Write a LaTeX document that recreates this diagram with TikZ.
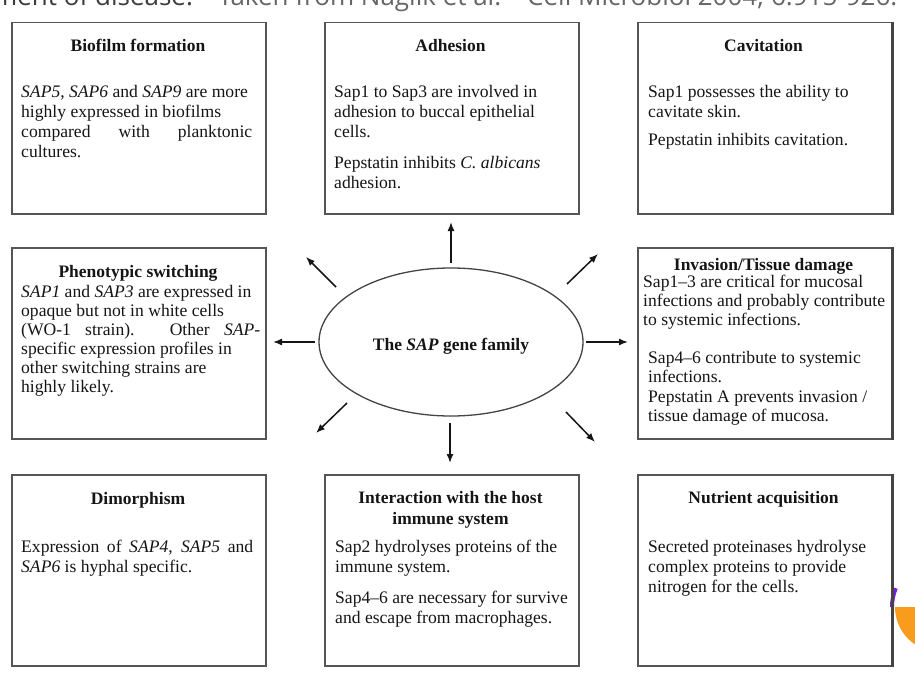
\documentclass[tikz,border=0pt]{standalone}
\usepackage{fontspec}
\setmainfont{Liberation Serif}
\newfontfamily\capfont{Open Sans}
\usetikzlibrary{arrows.meta,shapes.geometric}
\definecolor{txt}{HTML}{151515}
\definecolor{bord}{HTML}{555555}
\definecolor{bordd}{HTML}{444444}
\definecolor{capdark}{HTML}{3C3C3C}
\definecolor{capgray}{HTML}{666666}
\definecolor{orng}{HTML}{F99B1C}
\definecolor{purp}{HTML}{7A1FE0}
\begin{document}
\begin{tikzpicture}[x=1bp,y=-1bp,
  box/.style={draw=bord, line width=1.5bp, rectangle, inner sep=0, anchor=north west,
              minimum width=254bp, minimum height=191bp},
  ttl/.style={font=\fontsize{17.5bp}{20bp}\selectfont\bfseries, text=txt, inner sep=0, anchor=base},
  body/.style={font=\fontsize{17.6bp}{20bp}\selectfont, text=txt, inner sep=0, anchor=north west, align=left},
  bodyn/.style={font=\fontsize{17.6bp}{19bp}\selectfont, text=txt, inner sep=0, anchor=north west, align=left},
  capt/.style={font=\capfont\fontsize{26bp}{30bp}\selectfont, inner sep=0, anchor=base west},
  arr/.style={-{Latex[length=9bp,width=7bp]}, line width=1.5bp, draw=txt}]
\useasboundingbox (0,0) rectangle (915,689);
\clip (0,0) rectangle (915,689);
\fill[white] (0,0) rectangle (915,689);

% cropped caption at the top
\node[capt, text=capdark] (cap1) at (-7,6) {ment of disease.};
\node[capt, text=capgray] (cap2) at (218,6) {Taken from Naglik et al.};
\node[capt, text=capgray] (cap3) at (527,6) {Cell Microbiol 2004; 6:915-926.};

% decorative shapes at the right edge
\draw[purp, line width=4bp] (940,607) ++(180:48) arc[start angle=180, end angle=203, radius=48];
\fill[orng] (940,607) -- (895,607) arc[start angle=180, end angle=90, radius=45] -- cycle;

% boxes
\node[box] (bio) at (11,22) {};
\node[box] (adh) at (324,22) {};
\node[box] (cav) at (637,22) {};
\node[box] (phe) at (11,247) {};
\node[box] (inv) at (637,247) {};
\node[box] (dim) at (11,474) {};
\node[box] (imm) at (324,474) {};
\node[box] (nut) at (637,474) {};
\draw[bordd, line width=2.2bp] (cav.north east) -- (cav.south east);
\draw[bordd, line width=2.2bp] (inv.north east) -- (inv.south east);
\draw[bordd, line width=2.2bp] (nut.north east) -- (nut.south east);

% Biofilm formation
\node[ttl] (bioT) at (138,52) {Biofilm formation};
\node[body] (bioB) at (21,83) {\strut\textit{SAP5}, \textit{SAP6} and \textit{SAP9} are more\\
highly expressed in biofilms\\
\makebox[231bp][s]{compared with planktonic}\\
cultures.};

% Adhesion
\node[ttl] (adhT) at (450.5,52) {Adhesion};
\node[body] (adhB) at (334,83) {\strut Sap1 to Sap3 are involved in\\
adhesion to buccal epithelial\\
cells.\\[11bp]
Pepstatin inhibits \textit{C. albicans}\\
adhesion.};

% Cavitation
\node[ttl] (cavT) at (763.5,52) {Cavitation};
\node[body] (cavB) at (648,83) {\strut Sap1 possesses the ability to\\
cavitate skin.\\[8bp]
Pepstatin inhibits cavitation.};

% Phenotypic switching
\node[ttl] (pheT) at (138,277) {Phenotypic switching};
\node[bodyn] (pheB) at (21,283.7) {\strut\textit{SAP1} and \textit{SAP3} are expressed in\\
opaque but not in white cells\\
\makebox[239bp][s]{(WO-1 strain). Other \textit{SAP}-}\\
specific expression profiles in\\
other switching strains are\\
highly likely.};

% Invasion / Tissue damage
\node[ttl] (invT) at (763.5,270) {Invasion/Tissue damage};
\node[bodyn] (invB1) at (643,273.7) {\strut Sap1–3 are critical for mucosal\\
infections and probably contribute\\
to systemic infections.};
\node[bodyn] (invB2) at (648,349.7) {\strut Sap4–6 contribute to systemic\\
infections.\\[1.5bp]
Pepstatin A prevents invasion /\\
tissue damage of mucosa.};

% Dimorphism
\node[ttl] (dimT) at (138,504) {Dimorphism};
\node[body] (dimB) at (21,538) {\strut\makebox[232bp][s]{Expression of \textit{SAP4}, \textit{SAP5} and}\\
\textit{SAP6} is hyphal specific.};

% Interaction with the host immune system
\node[ttl, anchor=north, align=center, font=\fontsize{17.5bp}{21bp}\selectfont\bfseries] (immT) at (450.5,488.3)
  {\strut Interaction with the host\\ immune system};
\node[body] (immB) at (335,538) {\strut Sap2 hydrolyses proteins of the\\
immune system.\\[11bp]
Sap4–6 are necessary for survive\\
and escape from macrophages.};

% Nutrient acquisition
\node[ttl] (nutT) at (763.5,503) {Nutrient acquisition};
\node[body] (nutB) at (648,538) {\strut Secreted proteinases hydrolyse\\
complex proteins to provide\\
nitrogen for the cells.};

% central ellipse
\node[draw=bordd, line width=1.3bp, ellipse, minimum width=264bp, minimum height=148bp, inner sep=0] (ell) at (451,342) {};
\node[ttl] (ellT) at (451,350) {The \textit{SAP} gene family};

% arrows
\coordinate (upS) at (451,263);  \coordinate (upE) at (451,222);
\coordinate (dnS) at (450,423);  \coordinate (dnE) at (450,463);
\coordinate (lfS) at (315,342);  \coordinate (lfE) at (273,342);
\coordinate (rtS) at (586,342);  \coordinate (rtE) at (628,342);
\coordinate (ulS) at (336,287);  \coordinate (ulE) at (306,257);
\coordinate (urS) at (567,284);  \coordinate (urE) at (598,254);
\coordinate (llS) at (347,403);  \coordinate (llE) at (316,433);
\coordinate (lrS) at (566,412);  \coordinate (lrE) at (595,442);
\draw[arr] (upS) -- (upE);
\draw[arr] (dnS) -- (dnE);
\draw[arr] (lfS) -- (lfE);
\draw[arr] (rtS) -- (rtE);
\draw[arr] (ulS) -- (ulE);
\draw[arr] (urS) -- (urE);
\draw[arr] (llS) -- (llE);
\draw[arr] (lrS) -- (lrE);
\end{tikzpicture}
\end{document}
